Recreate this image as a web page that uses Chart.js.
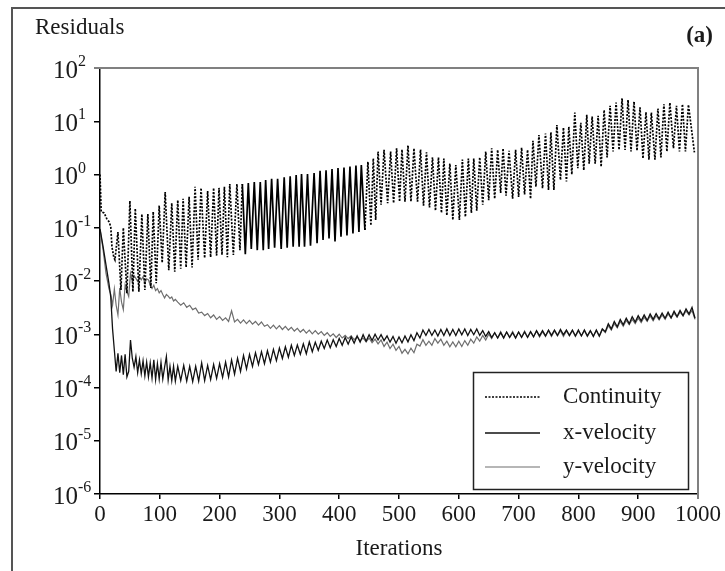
<!DOCTYPE html>
<html lang="en">
<head>
<meta charset="UTF-8">
<title>Residuals</title>
<script src="https://cdn.jsdelivr.net/npm/chart.js@4/dist/chart.umd.min.js"></script>
<style>
  html, body { margin: 0; padding: 0; background: #fff; }
  canvas { display: block; }
</style>
</head>
<body>
<canvas id="residuals" width="725" height="571"></canvas>
<script>
// continuity residual: iteration / value
const contIter = [
  0, 2, 7, 11, 15, 18, 20, 23, 25, 30,
  35, 39, 45, 50, 55, 59, 65, 70, 75, 80,
  85, 89, 94, 99, 104, 109, 115, 120, 125, 130,
  135, 139, 144, 149, 154, 159, 164, 169, 175, 180,
  185, 190, 195, 199, 204, 208, 213, 217, 223, 229,
  234, 238, 243, 248, 253, 258, 263, 268, 273, 277,
  282, 287, 292, 297, 303, 308, 313, 318, 323, 328,
  333, 337, 342, 347, 352, 358, 363, 368, 373, 378,
  383, 388, 393, 398, 403, 408, 413, 418, 423, 428,
  433, 437, 443, 448, 453, 457, 461, 465, 470, 475,
  481, 486, 491, 496, 501, 505, 510, 515, 520, 525,
  531, 536, 541, 546, 551, 556, 561, 566, 571, 575,
  580, 585, 590, 595, 601, 606, 611, 616, 621, 625,
  630, 635, 640, 645, 650, 655, 660, 665, 670, 674,
  679, 684, 690, 695, 700, 705, 710, 715, 720, 724,
  729, 734, 740, 745, 750, 754, 759, 764, 770, 775,
  780, 784, 789, 794, 799, 804, 809, 814, 818, 823,
  828, 833, 838, 843, 848, 853, 858, 863, 868, 873,
  878, 883, 888, 893, 898, 903, 908, 913, 918, 922,
  928, 933, 938, 943, 948, 953, 959, 964, 969, 974,
  979, 984, 994
];
const contRes = [
  1.0, 0.20, 0.19, 0.15, 0.13, 0.105, 0.044, 0.028, 0.025, 0.083,
  0.0068, 0.10, 0.0059, 0.32, 0.0063, 0.23, 0.0063, 0.18, 0.0068, 0.18,
  0.0074, 0.20, 0.0091, 0.26, 0.022, 0.47, 0.016, 0.29, 0.015, 0.33,
  0.017, 0.35, 0.018, 0.38, 0.018, 0.59, 0.025, 0.56, 0.027, 0.49,
  0.028, 0.56, 0.030, 0.56, 0.031, 0.59, 0.028, 0.66, 0.031, 0.66,
  0.038, 0.66, 0.032, 0.69, 0.040, 0.72, 0.038, 0.72, 0.038, 0.79,
  0.040, 0.83, 0.042, 0.83, 0.040, 0.89, 0.042, 0.93, 0.044, 0.98,
  0.044, 1.02, 0.044, 1.02, 0.046, 1.07, 0.051, 1.17, 0.059, 1.20,
  0.063, 1.26, 0.055, 1.32, 0.068, 1.35, 0.072, 1.41, 0.078, 1.48,
  0.083, 1.51, 0.091, 1.74, 0.11, 2.0, 0.14, 2.7, 0.27, 2.9,
  0.29, 2.7, 0.29, 3.1, 0.31, 2.95, 0.31, 3.5, 0.31, 3.1,
  0.31, 2.95, 0.26, 2.6, 0.24, 2.1, 0.21, 2.1, 0.19, 2.0,
  0.17, 1.6, 0.14, 1.5, 0.14, 1.9, 0.16, 2.0, 0.19, 2.0,
  0.21, 2.1, 0.27, 2.7, 0.33, 3.1, 0.35, 2.9, 0.45, 3.1,
  0.40, 2.8, 0.35, 2.9, 0.38, 3.2, 0.42, 2.9, 0.35, 4.3,
  0.59, 5.5, 0.55, 5.9, 0.51, 6.2, 0.51, 8.5, 0.79, 7.6,
  0.74, 7.9, 1.0, 14.5, 1.32, 9.3, 1.2, 13.2, 1.6, 12.3,
  1.6, 12.6, 1.4, 16.2, 2.1, 19.5, 2.7, 22.4, 2.9, 26.9,
  2.9, 25.1, 2.7, 23.4, 2.8, 18.2, 2.0, 14.8, 1.9, 14.5,
  1.9, 17.4, 2.1, 20.9, 2.7, 22.4, 3.1, 19.5, 2.7, 20.9,
  2.7, 20.4, 2.6
];

// velocity residuals share one iteration list
const velIter = [
  0, 5, 10, 15, 18, 21, 24, 27, 30, 33,
  36, 39, 42, 45, 48, 51, 54, 57, 60, 63,
  66, 69, 72, 75, 78, 81, 84, 87, 90, 93,
  96, 99, 102, 105, 108, 111, 114, 117, 120, 123,
  126, 130, 135, 140, 145, 150, 155, 160, 165, 170,
  175, 180, 185, 190, 195, 200, 205, 210, 215, 220,
  225, 230, 235, 240, 245, 250, 255, 260, 265, 270,
  275, 280, 285, 290, 295, 300, 305, 310, 315, 320,
  325, 330, 335, 340, 345, 350, 355, 360, 365, 370,
  375, 380, 385, 390, 395, 400, 405, 410, 415, 420,
  425, 430, 435, 440, 445, 450, 455, 460, 465, 470,
  475, 480, 485, 490, 495, 500, 505, 510, 515, 520,
  525, 530, 535, 540, 545, 550, 555, 560, 565, 570,
  575, 580, 585, 590, 595, 600, 605, 610, 615, 620,
  625, 630, 635, 640, 645, 650, 655, 660, 665, 670,
  675, 680, 685, 690, 695, 700, 705, 710, 715, 720,
  725, 730, 735, 740, 745, 750, 755, 760, 765, 770,
  775, 780, 785, 790, 795, 800, 805, 810, 815, 820,
  825, 830, 835, 840, 845, 850, 855, 860, 865, 870,
  875, 880, 885, 890, 895, 900, 905, 910, 915, 920,
  925, 930, 935, 940, 945, 950, 955, 960, 965, 970,
  975, 980, 985, 990, 995
];
const xVel = [
  0.095, 0.045, 0.020, 0.0089, 0.0050, 0.00126, 5.0e-4, 2.0e-4, 4.4e-4, 1.9e-4,
  4.0e-4, 1.74e-4, 4.2e-4, 1.58e-4, 2.0e-4, 7.8e-4, 3.55e-4, 2.4e-4, 3.8e-4, 1.9e-4,
  3.3e-4, 1.82e-4, 3.16e-4, 1.66e-4, 3.0e-4, 1.58e-4, 2.9e-4, 1.51e-4, 3.3e-4, 1.41e-4,
  2.8e-4, 1.45e-4, 2.95e-4, 1.45e-4, 2.4e-4, 3.8e-4, 1.38e-4, 2.5e-4, 1.35e-4, 2.5e-4,
  1.32e-4, 2.5e-4, 1.35e-4, 2.6e-4, 1.32e-4, 2.5e-4, 1.29e-4, 2.5e-4, 1.32e-4, 2.9e-4,
  1.35e-4, 2.6e-4, 1.41e-4, 2.7e-4, 1.48e-4, 2.8e-4, 1.55e-4, 3.0e-4, 1.58e-4, 3.3e-4,
  1.78e-4, 3.55e-4, 2.0e-4, 4.0e-4, 2.24e-4, 4.2e-4, 2.5e-4, 4.5e-4, 2.7e-4, 4.7e-4,
  2.8e-4, 4.9e-4, 3.0e-4, 5.2e-4, 3.2e-4, 5.5e-4, 3.5e-4, 5.8e-4, 3.7e-4, 6.2e-4,
  4.0e-4, 6.3e-4, 4.2e-4, 6.6e-4, 4.3e-4, 7.2e-4, 4.7e-4, 7.1e-4, 5.0e-4, 7.4e-4,
  5.4e-4, 7.8e-4, 5.6e-4, 7.9e-4, 5.9e-4, 8.3e-4, 6.2e-4, 8.7e-4, 6.5e-4, 8.9e-4,
  6.8e-4, 9.3e-4, 7.1e-4, 9.8e-4, 7.4e-4, 9.8e-4, 7.6e-4, 1.0e-3, 7.8e-4, 9.8e-4,
  7.6e-4, 9.3e-4, 7.1e-4, 9.1e-4, 6.8e-4, 8.9e-4, 6.9e-4, 9.3e-4, 7.2e-4, 9.8e-4,
  7.6e-4, 1.07e-3, 8.5e-4, 1.2e-3, 9.5e-4, 1.23e-3, 9.5e-4, 1.2e-3, 9.3e-4, 1.23e-3,
  9.5e-4, 1.26e-3, 9.5e-4, 1.23e-3, 9.5e-4, 1.26e-3, 9.8e-4, 1.26e-3, 9.5e-4, 1.23e-3,
  9.8e-4, 1.26e-3, 9.5e-4, 1.17e-3, 9.1e-4, 1.12e-3, 8.7e-4, 1.07e-3, 8.5e-4, 1.07e-3,
  8.5e-4, 1.1e-3, 8.7e-4, 1.07e-3, 8.5e-4, 1.1e-3, 8.7e-4, 1.1e-3, 8.7e-4, 1.12e-3,
  8.9e-4, 1.17e-3, 9.3e-4, 1.17e-3, 9.3e-4, 1.2e-3, 9.5e-4, 1.2e-3, 9.5e-4, 1.23e-3,
  9.8e-4, 1.2e-3, 9.5e-4, 1.2e-3, 9.3e-4, 1.2e-3, 9.3e-4, 1.2e-3, 9.3e-4, 1.17e-3,
  9.1e-4, 1.2e-3, 9.3e-4, 1.26e-3, 1.12e-3, 1.58e-3, 1.26e-3, 1.74e-3, 1.38e-3, 1.9e-3,
  1.51e-3, 2.0e-3, 1.58e-3, 2.14e-3, 1.7e-3, 2.24e-3, 1.78e-3, 2.3e-3, 1.82e-3, 2.4e-3,
  1.9e-3, 2.45e-3, 1.95e-3, 2.5e-3, 2.0e-3, 2.6e-3, 2.04e-3, 2.7e-3, 2.14e-3, 2.8e-3,
  2.24e-3, 3.0e-3, 2.4e-3, 3.2e-3, 2.0e-3
];
const yVel = [
  0.095, 0.040, 0.014, 0.0071, 0.0056, 0.0035, 0.0071, 0.0035, 0.0023, 0.0074,
  0.0040, 0.0029, 0.0083, 0.0063, 0.0051, 0.0138, 0.0098, 0.0126, 0.0112, 0.0098,
  0.012, 0.0105, 0.012, 0.0091, 0.011, 0.0105, 0.0083, 0.0072, 0.0083, 0.0066,
  0.0072, 0.0060, 0.0066, 0.0056, 0.0048, 0.0056, 0.0052, 0.0047, 0.0050, 0.0042,
  0.0045, 0.0040, 0.0035, 0.0039, 0.0032, 0.0035, 0.0029, 0.0031, 0.0025, 0.0026,
  2.24e-3, 2.45e-3, 2.04e-3, 2.3e-3, 1.9e-3, 2.14e-3, 1.82e-3, 2.04e-3, 1.74e-3, 2.75e-3,
  1.7e-3, 1.9e-3, 1.62e-3, 1.86e-3, 1.58e-3, 1.82e-3, 1.55e-3, 1.74e-3, 1.48e-3, 1.7e-3,
  1.41e-3, 1.51e-3, 1.29e-3, 1.48e-3, 1.26e-3, 1.45e-3, 1.23e-3, 1.41e-3, 1.2e-3, 1.35e-3,
  1.15e-3, 1.29e-3, 1.1e-3, 1.23e-3, 1.05e-3, 1.2e-3, 1.02e-3, 1.17e-3, 1.0e-3, 1.12e-3,
  9.5e-4, 1.07e-3, 9.1e-4, 1.02e-3, 8.7e-4, 1.0e-3, 8.5e-4, 9.5e-4, 8.3e-4, 9.3e-4,
  7.9e-4, 8.9e-4, 7.6e-4, 8.5e-4, 7.2e-4, 8.5e-4, 6.9e-4, 8.1e-4, 6.6e-4, 7.8e-4,
  5.9e-4, 7.1e-4, 5.4e-4, 6.5e-4, 5.0e-4, 5.9e-4, 4.4e-4, 5.2e-4, 4.3e-4, 5.5e-4,
  4.5e-4, 6.5e-4, 6.0e-4, 7.9e-4, 6.2e-4, 7.4e-4, 6.2e-4, 8.3e-4, 6.8e-4, 8.1e-4,
  6.2e-4, 7.4e-4, 5.8e-4, 7.2e-4, 5.8e-4, 7.4e-4, 5.9e-4, 7.6e-4, 6.2e-4, 8.1e-4,
  6.8e-4, 8.9e-4, 7.4e-4, 9.5e-4, 7.8e-4, 1.0e-3, 8.3e-4, 1.07e-3, 8.5e-4, 1.12e-3,
  8.7e-4, 1.1e-3, 8.9e-4, 1.12e-3, 8.7e-4, 1.1e-3, 8.9e-4, 1.15e-3, 8.9e-4, 1.12e-3,
  9.1e-4, 1.15e-3, 8.9e-4, 1.12e-3, 9.1e-4, 1.17e-3, 9.1e-4, 1.15e-3, 9.3e-4, 1.17e-3,
  9.1e-4, 1.15e-3, 9.3e-4, 1.17e-3, 9.1e-4, 1.15e-3, 9.3e-4, 1.17e-3, 9.1e-4, 1.15e-3,
  9.3e-4, 1.17e-3, 9.1e-4, 1.23e-3, 1.07e-3, 1.45e-3, 1.2e-3, 1.58e-3, 1.32e-3, 1.74e-3,
  1.41e-3, 1.82e-3, 1.51e-3, 1.9e-3, 1.58e-3, 2.0e-3, 1.66e-3, 2.1e-3, 1.74e-3, 2.2e-3,
  1.78e-3, 2.24e-3, 1.86e-3, 2.3e-3, 1.9e-3, 2.4e-3, 2.0e-3, 2.5e-3, 2.1e-3, 2.6e-3,
  2.2e-3, 2.75e-3, 2.3e-3, 2.8e-3, 1.9e-3
];

const seriesNames = ['Continuity', 'x-velocity', 'y-velocity'];
const xTicks = [0, 100, 200, 300, 400, 500, 600, 700, 800, 900, 1000];
const yTickExp = [2, 1, 0, -1, -2, -3, -4, -5, -6];

const serif = '"Liberation Serif", "Times New Roman", serif';
// iterations where the dotted continuity line prints as a solid band
const solidFrom = 238, solidTo = 443;

function pairs(xs, ys) {
  return xs.map((x, i) => ({ x: x, y: ys[i] }));
}

const frame = {
  id: 'frame',
  afterDraw(chart) {
    const { ctx, chartArea: a, scales: { x, y } } = chart;
    ctx.save();

    // page frame (top and left edges)
    ctx.strokeStyle = '#555';
    ctx.lineWidth = 2;
    ctx.beginPath();
    ctx.moveTo(12, 571); ctx.lineTo(12, 8); ctx.lineTo(725, 8);
    ctx.stroke();

    // grey top/right box edges
    ctx.strokeStyle = '#808080';
    ctx.lineWidth = 2;
    ctx.beginPath();
    ctx.moveTo(a.left - 6, a.top); ctx.lineTo(a.right, a.top); ctx.lineTo(a.right, a.bottom + 5);
    ctx.stroke();

    ctx.fillStyle = '#1a1a1a';
    ctx.textBaseline = 'middle';

    // y tick labels 10^n
    yTickExp.forEach(e => {
      const py = y.getPixelForValue(Math.pow(10, e));
      ctx.font = '25px ' + serif;
      ctx.textAlign = 'right';
      ctx.fillText('10', 78, py + 3);
      ctx.font = '16px ' + serif;
      ctx.textAlign = 'left';
      ctx.fillText(String(e), 78, py - 6);
    });

    // x tick labels
    ctx.font = '23px ' + serif;
    ctx.textAlign = 'center';
    xTicks.forEach(v => ctx.fillText(String(v), x.getPixelForValue(v), 515));

    ctx.font = '23px ' + serif;
    ctx.fillText('Iterations', (a.left + a.right) / 2, 549);

    ctx.textAlign = 'left';
    ctx.fillText('Residuals', 35, 28);

    ctx.font = 'bold 23px ' + serif;
    ctx.textAlign = 'right';
    ctx.fillText('(a)', 713, 36);

    // legend box
    ctx.strokeStyle = '#222';
    ctx.lineWidth = 1.5;
    ctx.strokeRect(473.5, 372.5, 215, 117);
    const rows = [397, 433, 467];
    chart.data.datasets.forEach((ds, i) => {
      ctx.save();
      ctx.strokeStyle = ds.borderColor;
      ctx.lineWidth = ds.borderWidth;
      ctx.setLineDash(ds.borderDash || []);
      ctx.beginPath();
      ctx.moveTo(485, rows[i]); ctx.lineTo(540, rows[i]);
      ctx.stroke();
      ctx.restore();
      ctx.font = '23px ' + serif;
      ctx.textAlign = 'left';
      ctx.fillStyle = '#1a1a1a';
      ctx.fillText(ds.label, 563, rows[i]);
    });

    ctx.restore();
  }
};

const axisLine = { display: true, color: '#000', width: 1.5 };
const tickMarks = len => ({ display: true, drawOnChartArea: false, drawTicks: true, tickLength: len, color: '#000', lineWidth: 1.5 });

new Chart(document.getElementById('residuals'), {
  type: 'line',
  data: {
    datasets: [
      {
        label: seriesNames[0],
        data: pairs(contIter, contRes),
        borderColor: '#000',
        borderWidth: 1.7,
        borderDash: [2, 1.5],
        segment: {
          borderDash: c => (c.p0.parsed.x >= solidFrom && c.p1.parsed.x <= solidTo) ? [] : [2, 1.5]
        }
      },
      {
        label: seriesNames[1],
        data: pairs(velIter, xVel),
        borderColor: '#111',
        borderWidth: 1.3
      },
      {
        label: seriesNames[2],
        data: pairs(velIter, yVel),
        borderColor: '#6e6e6e',
        borderWidth: 1.2
      }
    ]
  },
  options: {
    responsive: false,
    animation: false,
    layout: { padding: { left: 94, right: 27, top: 68, bottom: 72 } },
    elements: { point: { radius: 0 }, line: { tension: 0, fill: false } },
    plugins: { legend: { display: false }, tooltip: { enabled: false } },
    scales: {
      x: {
        type: 'linear', min: 0, max: 1000,
        afterBuildTicks: s => { s.ticks = xTicks.map(v => ({ value: v })); },
        ticks: { display: false },
        grid: tickMarks(5),
        border: axisLine
      },
      y: {
        type: 'logarithmic', min: 1e-6, max: 100,
        afterBuildTicks: s => { s.ticks = yTickExp.map(e => ({ value: Math.pow(10, e) })); },
        ticks: { display: false },
        grid: tickMarks(6),
        border: axisLine
      }
    }
  },
  plugins: [frame]
});
</script>
</body>
</html>
